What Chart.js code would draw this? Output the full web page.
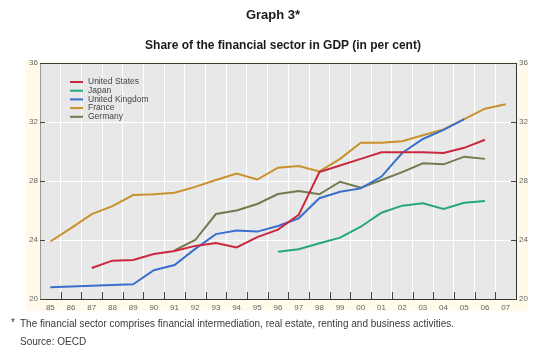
<!DOCTYPE html>
<html>
<head>
<meta charset="utf-8">
<script src="https://cdn.jsdelivr.net/npm/chart.js@4/dist/chart.umd.min.js"></script>
<style>
  html, body { margin: 0; padding: 0; background: #ffffff; }
  body { width: 560px; height: 360px; position: relative; overflow: hidden; font-family: "Liberation Sans", Arial, sans-serif; }
  #panel { position: absolute; left: 25px; top: 61px; width: 503px; height: 250px; background: #fffaea; }
  #c { position: absolute; left: 0; top: 0; }
  .t { position: absolute; text-align: center; font-weight: bold; color: #1a1a1a; white-space: nowrap; }
  .f { position: absolute; font-size: 10px; color: #3a3a3a; white-space: nowrap; }
</style>
</head>
<body>
<div id="panel"></div>
<canvas id="c" width="560" height="360"></canvas>
<div class="t" style="left:73px; width:400px; top:7px; font-size:13px;">Graph 3*</div>
<div class="t" style="left:83px; width:400px; top:38px; font-size:12px;">Share of the financial sector in GDP (in per cent)</div>
<div class="f" style="left:11px; top:317px;">*</div>
<div class="f" style="left:20px; top:318px;">The financial sector comprises financial intermediation, real estate, renting and business activities.</div>
<div class="f" style="left:20px; top:336px;">Source: OECD</div>
<script>
const years = ['85','86','87','88','89','90','91','92','93','94','95','96','97','98','99','00','01','02','03','04','05','06','07'];
const seriesNames = ['United States','Japan','United Kingdom','France','Germany'];
const unitedStates = [null,null,22.1,22.6,22.65,23.05,23.25,23.6,23.8,23.5,24.2,24.7,25.7,28.6,29.05,29.5,29.95,29.95,29.95,29.9,30.25,30.8,null];
const japan = [null,null,null,null,null,null,null,null,null,null,null,23.2,23.37,23.78,24.16,24.9,25.85,26.33,26.49,26.1,26.53,26.64,null];
const unitedKingdom = [20.8,20.85,20.9,20.95,21.0,21.95,22.3,23.4,24.4,24.65,24.57,24.95,25.47,26.83,27.27,27.5,28.3,29.9,30.85,31.46,32.2,null,null];
const france = [23.9,24.8,25.75,26.3,27.05,27.1,27.2,27.6,28.07,28.5,28.1,28.9,29.02,28.65,29.5,30.6,30.6,30.7,31.1,31.5,32.2,32.9,33.2];
const germany = [null,null,null,null,null,null,23.3,24.0,25.76,26.0,26.44,27.12,27.32,27.1,27.95,27.55,28.07,28.6,29.2,29.13,29.65,29.5,null];
const yTicks = [20,24,28,32,36];

const colors = ['#c9283f','#26a874','#3b6fce','#c8912c','#727a4e'];
const values = [unitedStates, japan, unitedKingdom, france, germany];

const plotBg = {
  id: 'plotBg',
  beforeDraw(chart) {
    const {ctx, chartArea: a} = chart;
    ctx.save();
    ctx.fillStyle = '#e8e8e8';
    ctx.fillRect(a.left, a.top, a.right - a.left, a.bottom - a.top);
    ctx.restore();
  }
};

const frame = {
  id: 'frame',
  afterDatasetsDraw(chart) {
    const {ctx, chartArea: a} = chart;
    const x = chart.scales.x;
    const y = chart.scales.y;
    ctx.save();
    ctx.strokeStyle = '#444';
    ctx.lineWidth = 1;
    // inner tick marks on the bottom axis at category boundaries
    for (let i = 1; i < years.length; i++) {
      const xb = Math.round((x.getPixelForValue(i - 1) + x.getPixelForValue(i)) / 2) + 0.5;
      ctx.beginPath();
      ctx.moveTo(xb, a.bottom);
      ctx.lineTo(xb, a.bottom - 7);
      ctx.stroke();
    }
    // inner tick marks on both vertical axes
    yTicks.forEach(v => {
      const yp = Math.round(y.getPixelForValue(v)) + 0.5;
      ctx.beginPath();
      ctx.moveTo(a.left, yp);
      ctx.lineTo(a.left + 5, yp);
      ctx.moveTo(a.right, yp);
      ctx.lineTo(a.right - 5, yp);
      ctx.stroke();
    });
    // top frame line
    ctx.strokeStyle = '#3a3a3a';
    ctx.beginPath();
    ctx.moveTo(a.left, a.top + 0.5);
    ctx.lineTo(a.right, a.top + 0.5);
    ctx.stroke();
    ctx.restore();
  }
};

const innerLegend = {
  id: 'innerLegend',
  afterDraw(chart) {
    const {ctx, chartArea: a} = chart;
    ctx.save();
    ctx.font = '8.5px "Liberation Sans", Arial, sans-serif';
    ctx.textBaseline = 'middle';
    chart.data.datasets.forEach((ds, i) => {
      const y = a.top + 19 + i * 8.7;
      const x0 = a.left + 30;
      ctx.strokeStyle = ds.borderColor;
      ctx.lineWidth = 2;
      ctx.beginPath();
      ctx.moveTo(x0, y);
      ctx.lineTo(x0 + 13, y);
      ctx.stroke();
      ctx.fillStyle = '#444';
      ctx.fillText(ds.label, x0 + 18, y);
    });
    ctx.restore();
  }
};

new Chart(document.getElementById('c'), {
  type: 'line',
  data: {
    labels: years,
    datasets: seriesNames.map((n, i) => ({
      label: n,
      data: values[i],
      borderColor: colors[i],
      backgroundColor: colors[i],
      borderWidth: 2,
      pointRadius: 0,
      tension: 0,
      spanGaps: false
    }))
  },
  options: {
    responsive: false,
    animation: false,
    devicePixelRatio: 1,
    layout: { padding: { left: 25, right: 32, top: 63, bottom: 49 } },
    plugins: { legend: { display: false }, tooltip: { enabled: false } },
    scales: {
      x: {
        type: 'category',
        offset: true,
        grid: { color: '#ffffff', lineWidth: 1, offset: true, drawTicks: false },
        border: { color: '#333333', width: 1 },
        ticks: { color: '#666', font: { size: 8, family: '"Liberation Sans", Arial, sans-serif' }, padding: 4, maxRotation: 0, autoSkip: false },
        afterFit(s) { s.height = 12; }
      },
      y: {
        position: 'left',
        min: 20, max: 36,
        afterBuildTicks(s) { s.ticks = yTicks.map(v => ({ value: v })); },
        grid: { color: '#ffffff', lineWidth: 1, drawTicks: false },
        border: { color: '#9a9a9a', width: 1 },
        ticks: { color: '#666', font: { size: 8, family: '"Liberation Sans", Arial, sans-serif' }, padding: 2 },
        afterFit(s) { s.width = 15; }
      },
      y2: {
        position: 'right',
        min: 20, max: 36,
        afterBuildTicks(s) { s.ticks = yTicks.map(v => ({ value: v })); },
        grid: { drawOnChartArea: false, drawTicks: false },
        border: { color: '#333333', width: 1 },
        ticks: { color: '#666', font: { size: 8, family: '"Liberation Sans", Arial, sans-serif' }, padding: 3 },
        afterFit(s) { s.width = 12; }
      }
    }
  },
  plugins: [plotBg, frame, innerLegend]
});
</script>
</body>
</html>
